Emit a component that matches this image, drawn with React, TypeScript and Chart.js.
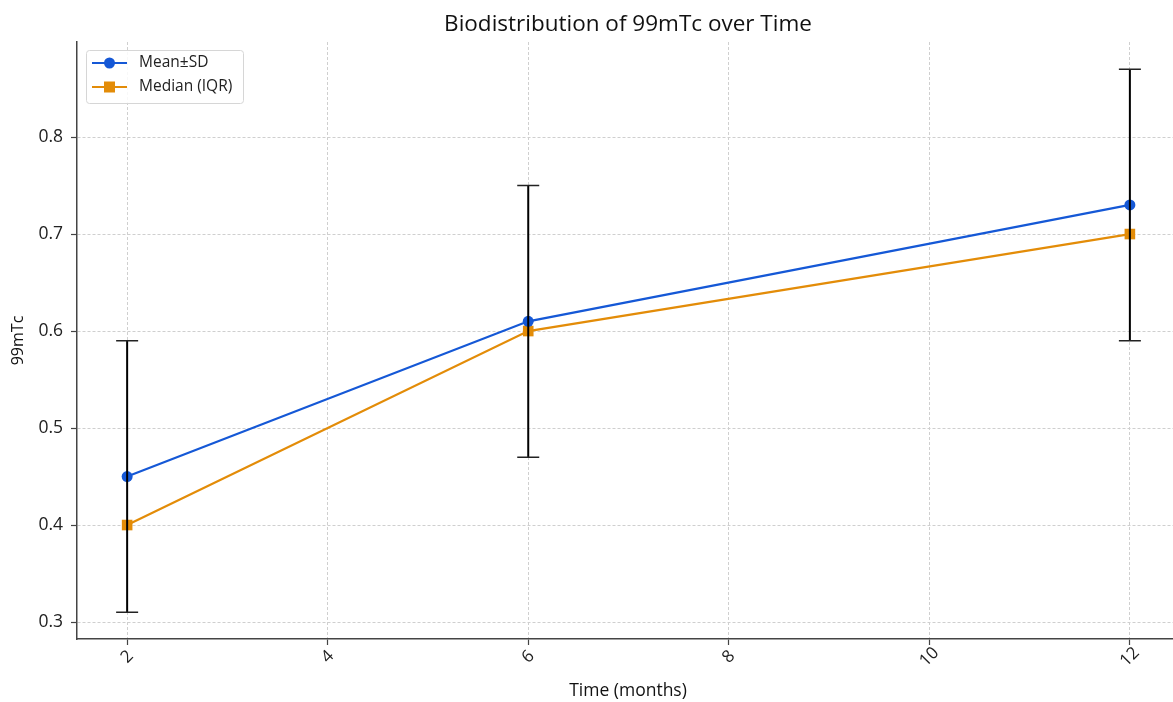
import React, { useEffect, useRef } from "react";
import { Chart, registerables } from "chart.js";

Chart.register(...registerables);

const months = [2, 6, 12];
const meanValues = [0.45, 0.61, 0.73];
const sdValues = [0.14, 0.14, 0.14];
const medianValues = [0.4, 0.6, 0.7];
const xTickValues = [2, 4, 6, 8, 10, 12];
const yTickValues = [0.3, 0.4, 0.5, 0.6, 0.7, 0.8];
const seriesLabels = ["Mean±SD", "Median (IQR)"];

const BLUE = "#1558d6";
const ORANGE = "#e38c08";
const FONT = "'Open Sans', Roboto, sans-serif";

const overlayPlugin = {
  id: "overlay",
  afterDatasetsDraw(chart: any) {
    const ctx = chart.ctx;
    const xs = chart.scales.x;
    const ys = chart.scales.y;
    ctx.save();
    months.forEach((m, i) => {
      const px = xs.getPixelForValue(m);
      const lo = ys.getPixelForValue(meanValues[i] - sdValues[i]);
      const hi = ys.getPixelForValue(meanValues[i] + sdValues[i]);
      ctx.strokeStyle = "#000";
      ctx.lineWidth = 2;
      ctx.beginPath();
      ctx.moveTo(px, lo);
      ctx.lineTo(px, hi);
      ctx.stroke();
      ctx.strokeStyle = "#222";
      ctx.lineWidth = 1.5;
      ctx.beginPath();
      ctx.moveTo(px - 11, lo);
      ctx.lineTo(px + 11, lo);
      ctx.moveTo(px - 11, hi);
      ctx.lineTo(px + 11, hi);
      ctx.stroke();
    });
    ctx.restore();
  },
  afterDraw(chart: any) {
    const ctx = chart.ctx;
    const xs = chart.scales.x;
    const area = chart.chartArea;
    ctx.save();
    ctx.fillStyle = "#111";
    ctx.font = `22.5px ${FONT}`;
    ctx.textAlign = "center";
    ctx.textBaseline = "middle";
    ctx.fillText("Biodistribution of 99mTc over Time", 628, 25);
    ctx.font = `17px ${FONT}`;
    ctx.fillStyle = "#222";
    xTickValues.forEach((v) => {
      const px = xs.getPixelForValue(v);
      ctx.save();
      ctx.translate(px, area.bottom + 18);
      ctx.rotate(-Math.PI / 4);
      ctx.textAlign = "center";
      ctx.textBaseline = "middle";
      ctx.fillText(String(v), 0, 0);
      ctx.restore();
    });
    ctx.font = `17.5px ${FONT}`;
    ctx.fillStyle = "#111";
    ctx.textAlign = "center";
    ctx.textBaseline = "middle";
    ctx.fillText("Time (months)", 628, 691);
    ctx.font = `16px ${FONT}`;
    ctx.save();
    ctx.translate(18, (area.top + area.bottom) / 2);
    ctx.rotate(-Math.PI / 2);
    ctx.fillText("99mTc", 0, 0);
    ctx.restore();
    const bx = 86, by = 50, bw = 157, bh = 53;
    ctx.beginPath();
    ctx.roundRect(bx + 0.5, by + 0.5, bw, bh, 3);
    ctx.fillStyle = "rgba(255,255,255,0.85)";
    ctx.fill();
    ctx.strokeStyle = "#d6d6d6";
    ctx.lineWidth = 1;
    ctx.stroke();
    const rows = [
      { y: 63, color: BLUE, shape: "circle" },
      { y: 87, color: ORANGE, shape: "square" },
    ];
    rows.forEach((r, i) => {
      ctx.strokeStyle = r.color;
      ctx.lineWidth = 2;
      ctx.beginPath();
      ctx.moveTo(92, r.y);
      ctx.lineTo(127, r.y);
      ctx.stroke();
      ctx.fillStyle = r.color;
      if (r.shape === "circle") {
        ctx.beginPath();
        ctx.arc(109.5, r.y, 5.5, 0, Math.PI * 2);
        ctx.fill();
      } else {
        ctx.fillRect(104, r.y - 5.5, 11, 11);
      }
      ctx.fillStyle = "#222";
      ctx.font = `15.5px ${FONT}`;
      ctx.textAlign = "left";
      ctx.textBaseline = "middle";
      ctx.fillText(seriesLabels[i], 139, r.y);
    });
    ctx.restore();
  },
};

export default function App() {
  const ref = useRef<HTMLCanvasElement>(null);
  useEffect(() => {
    document.body.style.margin = "0";
    document.body.style.overflow = "hidden";
    const chart = new Chart(ref.current!, {
      type: "line",
      data: {
        datasets: [
          {
            label: seriesLabels[0],
            data: months.map((m, i) => ({ x: m, y: meanValues[i] })),
            borderColor: BLUE,
            backgroundColor: BLUE,
            borderWidth: 2.2,
            pointStyle: "circle",
            pointRadius: 5.5,
            pointBorderWidth: 0,
            tension: 0,
          },
          {
            label: seriesLabels[1],
            data: months.map((m, i) => ({ x: m, y: medianValues[i] })),
            borderColor: ORANGE,
            backgroundColor: ORANGE,
            borderWidth: 2.2,
            pointStyle: "rect",
            pointRadius: 7.5,
            pointBorderWidth: 0,
            tension: 0,
          },
        ],
      },
      options: {
        animation: false,
        responsive: true,
        maintainAspectRatio: false,
        layout: { autoPadding: false, padding: { top: 42, left: 0, right: 0, bottom: 0 } },
        plugins: {
          legend: { display: false },
          title: { display: false },
          tooltip: { enabled: false },
        },
        scales: {
          x: {
            type: "linear",
            min: 1.5,
            max: 12.43,
            afterBuildTicks: (s: any) => {
              s.ticks = xTickValues.map((v) => ({ value: v }));
            },
            afterFit: (s: any) => {
              s.height = 63;
              s.paddingLeft = 0;
              s.paddingRight = 0;
            },
            ticks: { display: false },
            grid: {
              color: "#cfcfcf",
              lineWidth: 1,
              tickLength: 6,
              tickColor: "#444",
              tickWidth: 1.2,
            },
            border: { display: true, color: "#444", width: 1.5, dash: [3, 2] },
          },
          y: {
            type: "linear",
            min: 0.2825,
            max: 0.898,
            afterBuildTicks: (s: any) => {
              s.ticks = yTickValues.map((v) => ({ value: v }));
            },
            afterFit: (s: any) => {
              s.width = 77;
            },
            ticks: {
              color: "#222",
              font: { family: FONT, size: 17.5 },
              padding: 8,
              callback: (v: any) => Number(v).toFixed(1),
            },
            grid: {
              color: "#cfcfcf",
              lineWidth: 1,
              tickLength: 6,
              tickColor: "#444",
              tickWidth: 1.2,
            },
            border: { display: true, color: "#444", width: 1.5, dash: [3, 2] },
          },
        },
      },
      plugins: [overlayPlugin],
    });
    return () => chart.destroy();
  }, []);
  return (
    <div style={{ position: "relative", width: 1173, height: 702 }}>
      <canvas ref={ref} />
    </div>
  );
}
